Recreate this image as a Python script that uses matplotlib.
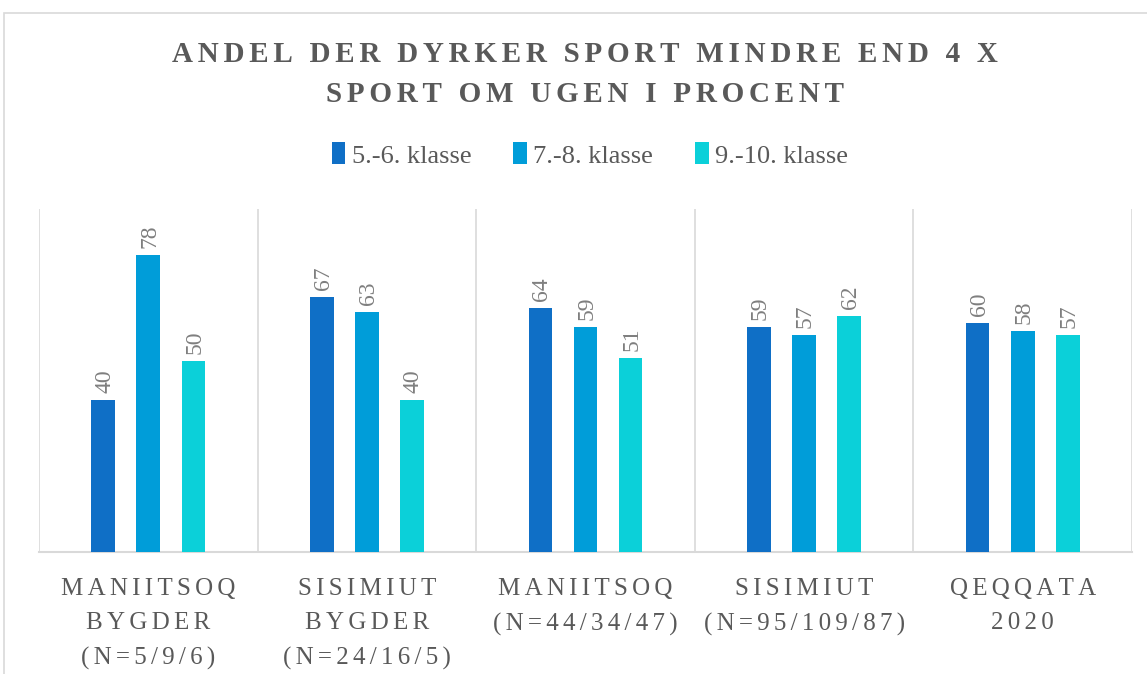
import numpy as np
import matplotlib.pyplot as plt
from matplotlib.patches import Rectangle

# Data
categories = ['MANIITSOQ\nBYGDER\n(N=5/9/6)', 'SISIMIUT\nBYGDER\n(N=24/16/5)',
              'MANIITSOQ\n(N=44/34/47)', 'SISIMIUT\n(N=95/109/87)', 'QEQQATA\n2020']
series_names = ['5.-6. klasse', '7.-8. klasse', '9.-10. klasse']
g56 = [40, 67, 64, 59, 60]
g78 = [78, 63, 59, 57, 58]
g910 = [50, 40, 51, 62, 57]
colors = ['#0F6FC6', '#009DD9', '#0BD0D9']

TXT = '#595959'
GRID = '#D9D9D9'
FAM = ['Liberation Serif', 'DejaVu Serif']


def spaced(s, sp='\u200a'):
    # crude letter spacing with hair spaces
    return '\n'.join(sp.join(line) for line in s.split('\n'))


fig = plt.figure(figsize=(11.47, 6.74), dpi=100)
fig.patches.append(Rectangle((4 / 1147, -0.1), 1.2, 1 - 13 / 674 + 0.1,
                             transform=fig.transFigure, fill=False,
                             edgecolor=GRID, linewidth=1.2))

ax = fig.add_axes([39 / 1147, 1 - 552 / 674, (1132 - 39) / 1147, (552 - 209) / 674])

x = np.arange(len(categories))
step = 0.206
width = 0.108
for i, (vals, name, c) in enumerate(zip([g56, g78, g910], series_names, colors)):
    pos = x + (i - 1) * step
    bars = ax.bar(pos, vals, width, color=c, label=name, zorder=3)
    for p, v in zip(pos, vals):
        ax.annotate(str(v), (p, v), xytext=(1, 5), textcoords='offset points',
                    rotation=90, ha='center', va='bottom', fontsize=17,
                    color='#7F7F7F', family=FAM)

ax.set_xlim(-0.5, len(categories) - 0.5)
ax.set_ylim(0, 90)
for k in range(len(categories) + 1):
    ax.axvline(k - 0.5, color=GRID, linewidth=1.2, zorder=1)
for s in ['top', 'left', 'right']:
    ax.spines[s].set_visible(False)
ax.spines['bottom'].set_color(GRID)
ax.spines['bottom'].set_linewidth(1.5)
ax.set_yticks([])
ax.set_xticks(x)
ax.set_xticklabels([spaced(c, '\u200a\u200a') for c in categories], fontsize=18,
                   color=TXT, family=FAM, linespacing=1.7)
ax.tick_params(axis='x', length=0, pad=19)

cx = 585 / 1147
fig.text(cx, 1 - 55 / 674, spaced('ANDEL DER DYRKER SPORT MINDRE END 4 X', '\u200a\u200a'),
         ha='center', va='center', fontsize=21, fontweight='bold', color=TXT, family=FAM)
fig.text(cx, 1 - 95 / 674, spaced('SPORT OM UGEN I PROCENT', '\u200a\u200a'),
         ha='center', va='center', fontsize=21, fontweight='bold', color=TXT, family=FAM)

h, l = ax.get_legend_handles_labels()
leg = fig.legend(h, l, loc='center', bbox_to_anchor=(590 / 1147, 1 - 155 / 674), ncol=3,
                 frameon=False, handlelength=0.5, handleheight=0.9, handletextpad=0.25,
                 columnspacing=1.6, prop={'family': FAM, 'size': 19})
for t in leg.get_texts():
    t.set_color(TXT)

fig.savefig('out.png', dpi=100)
